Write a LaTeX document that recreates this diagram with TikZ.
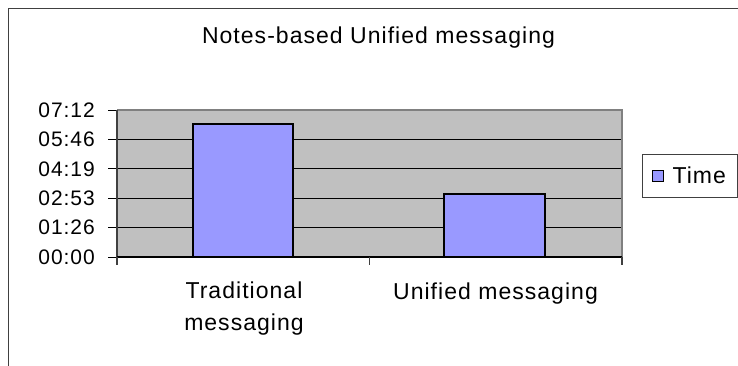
\documentclass[tikz,border=0pt]{standalone}
\usepackage{fontspec}
\setmainfont[LetterSpace=4.5]{Liberation Sans}
\usetikzlibrary{positioning}
\definecolor{barblue}{RGB}{153,153,255}
\definecolor{plotgray}{RGB}{192,192,192}
\definecolor{framegray}{RGB}{64,64,64}

\begin{document}
\begin{tikzpicture}[x=1pt, y=-1pt,
  bar/.style={fill=barblue, draw=black, line width=1.2pt},
  ticklabel/.style={anchor=east, inner sep=0pt, font=\fontsize{21}{25}\selectfont},
  catlabel/.style={anchor=north, align=center, inner sep=0pt, font=\fontsize{23}{32}\selectfont}]
\useasboundingbox (0,0) rectangle (738,365);
\clip (0,0) rectangle (738,365);
\draw[line width=1.5pt, color=framegray] (8.5,380) -- (8.5,8.5) -- (760,8.5);
\node[anchor=north, inner sep=0pt, font=\fontsize{23}{28}\selectfont] (title) at (378.5,26.7) {Notes-based Unified messaging};
% plot area
\fill[plotgray] (117,110) rectangle (622,257);
\foreach \i in {1,...,4}
    \draw[line width=0.8pt] (117,257-29.4*\i) -- (622,257-29.4*\i);
\draw[line width=1.2pt, color=gray] (117,110) -- (622,110) -- (622,257);
\foreach \i/\t in {0/00:00,1/01:26,2/02:53,3/04:19,4/05:46,5/07:12} {
    \draw[line width=0.8pt] (108,257-29.4*\i) -- (117,257-29.4*\i);
    \node[ticklabel] (y\i) at (95,257-29.4*\i) {\t};
}
\draw[line width=1.2pt, color=framegray] (117,110) -- (117,257);
\draw[line width=1.2pt] (117,257) -- (622,257);
\foreach \x in {117, 369.5, 622}
    \draw[line width=1.2pt, color=framegray] (\x,257) -- (\x,265);
% bars
\draw[bar] (193,257) rectangle (293,124);
\draw[bar] (444,257) rectangle (545,194);
\node[catlabel] (cat1) at (244,281.5) {Traditional\\messaging};
\node[catlabel] (cat2) at (495.5,283) {Unified messaging};
% legend
\node[draw=framegray, line width=0.8pt, minimum width=95pt, minimum height=43pt, inner sep=0pt] (legend) at (689.5,175.5) {};
\node[draw=black, fill=barblue, line width=0.8pt, minimum size=11pt, inner sep=0pt, anchor=west] (legendkey) at ([xshift=10pt]legend.west) {};
\node[inner sep=0pt, anchor=west, font=\fontsize{23}{28}\selectfont, right=9pt of legendkey.east] (legendtext) {Time};
\end{tikzpicture}
\end{document}
